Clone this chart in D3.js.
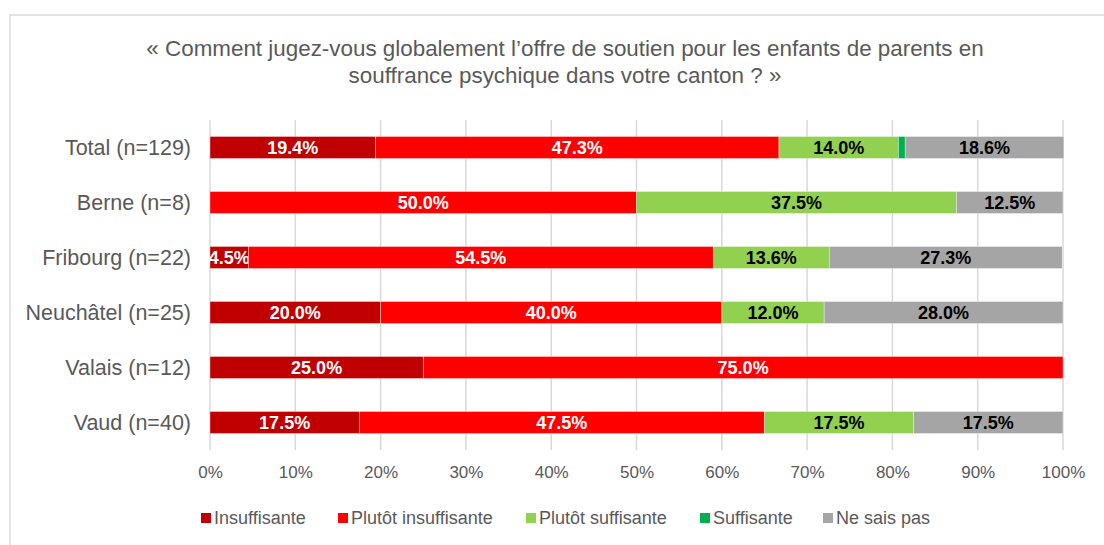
<!DOCTYPE html>
<html>
<head>
<meta charset="utf-8">
<script src="https://cdn.jsdelivr.net/npm/d3@7"></script>
<style>
  body { margin: 0; background: #fff; }
  svg { display: block; font-family: "Liberation Sans", Arial, sans-serif; }
</style>
</head>
<body>
<svg></svg>
<script>
const categories = ['Total (n=129)', 'Berne (n=8)', 'Fribourg (n=22)', 'Neuchâtel (n=25)', 'Valais (n=12)', 'Vaud (n=40)']
const seriesNames = ['Insuffisante', 'Plutôt insuffisante', 'Plutôt suffisante', 'Suffisante', 'Ne sais pas']
const insuffisante = [19.4, 0, 4.5, 20.0, 25.0, 17.5]
const plutotInsuffisante = [47.3, 50.0, 54.5, 40.0, 75.0, 47.5]
const plutotSuffisante = [14.0, 37.5, 13.6, 12.0, 0, 17.5]
const suffisante = [0.8, 0, 0, 0, 0, 0]
const neSaisPas = [18.6, 12.5, 27.3, 28.0, 0, 17.5]
const tickValues = [0, 10, 20, 30, 40, 50, 60, 70, 80, 90, 100]

const colors = ['#c00000', '#ff0000', '#92d050', '#00b050', '#a5a5a5']
const labelColors = ['#fff', '#fff', '#000', '#000', '#000']

const width = 1104
const height = 545
const margin = {top: 120, right: 41, bottom: 95, left: 210}

const svg = d3.select('svg').attr('width', width).attr('height', height)

// cadre du graphique
svg.append('path').attr('d', `M10,${height} V15 H${width}`)
  .attr('fill', 'none').attr('stroke', '#d9d9d9').attr('stroke-width', 1.5)

// titre
const title = svg.append('text').attr('text-anchor', 'middle').attr('fill', '#595959').style('font-size', '22.4px')
title.append('tspan').attr('x', 565).attr('y', 56).text('« Comment jugez-vous globalement l’offre de soutien pour les enfants de parents en')
title.append('tspan').attr('x', 565).attr('y', 83).text('souffrance psychique dans votre canton ? »')

const x = d3.scaleLinear().domain([0, 100]).range([margin.left, width - margin.right])
const y = d3.scaleBand().domain(categories).range([margin.top, height - margin.bottom]).paddingInner(0.6).paddingOuter(0.3)

// grille
svg.append('g').selectAll('line').data(tickValues).join('line')
  .attr('x1', d => x(d)).attr('x2', d => x(d))
  .attr('y1', margin.top).attr('y2', height - margin.bottom)
  .attr('stroke', '#d9d9d9').attr('stroke-width', 1.5)

// données empilées
const rows = categories.map((c, i) => ({
  cat: c,
  'Insuffisante': insuffisante[i],
  'Plutôt insuffisante': plutotInsuffisante[i],
  'Plutôt suffisante': plutotSuffisante[i],
  'Suffisante': suffisante[i],
  'Ne sais pas': neSaisPas[i]
}))
const stacked = d3.stack().keys(seriesNames)(rows)

const layers = svg.append('g').selectAll('g').data(stacked).join('g')
  .attr('fill', (d, i) => colors[i])

layers.selectAll('rect').data(d => d.filter(s => s[1] - s[0] > 0)).join('rect')
  .attr('x', d => x(d[0]))
  .attr('y', d => y(d.data.cat))
  .attr('width', d => x(d[1]) - x(d[0]))
  .attr('height', y.bandwidth())
  .attr('stroke', '#fff').attr('stroke-width', 0.6).attr('stroke-opacity', 0.6)

// étiquettes des valeurs
layers.each(function (layer, i) {
  d3.select(this).selectAll('text').data(layer.filter(s => s[1] - s[0] >= 2)).join('text')
    .attr('x', d => (x(d[0]) + x(d[1])) / 2)
    .attr('y', d => y(d.data.cat) + y.bandwidth() / 2)
    .attr('dy', '0.36em')
    .attr('text-anchor', 'middle')
    .attr('fill', labelColors[i])
    .style('font-size', '18px').style('font-weight', 'bold')
    .text(d => (d[1] - d[0]).toFixed(1) + '%')
})

// axe des catégories
svg.append('g').selectAll('text').data(categories).join('text')
  .attr('x', 191)
  .attr('y', d => y(d) + y.bandwidth() / 2)
  .attr('dy', '0.36em')
  .attr('text-anchor', 'end')
  .attr('fill', '#595959')
  .style('font-size', '21.5px')
  .text(d => d)

// axe des x
const xAxis = d3.axisBottom(x).tickValues(tickValues).tickFormat(d => d + '%').tickSize(0).tickPadding(16)
const gx = svg.append('g').attr('transform', `translate(0, ${height - margin.bottom})`).call(xAxis)
gx.select('.domain').remove()
gx.selectAll('text').attr('fill', '#595959').style('font-size', '17px').style('font-family', '"Liberation Sans", Arial, sans-serif')

// légende
const legendX = [201, 338, 526, 700, 823]
const legend = svg.append('g').selectAll('g').data(seriesNames).join('g')
  .attr('transform', (d, i) => `translate(${legendX[i]}, 518)`)
legend.append('rect').attr('x', 0).attr('y', -5).attr('width', 10).attr('height', 10).attr('fill', (d, i) => colors[i])
legend.append('text').attr('x', 13).attr('dy', '0.36em').attr('fill', '#595959').style('font-size', '18px').text(d => d)
</script>
</body>
</html>
